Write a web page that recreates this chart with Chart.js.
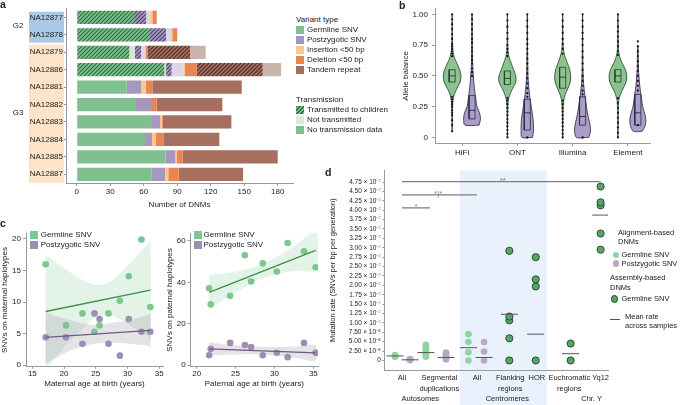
<!DOCTYPE html>
<html>
<head>
<meta charset="utf-8">
<script src="https://cdn.jsdelivr.net/npm/chart.js@4.4.1/dist/chart.umd.min.js"></script>
<style>
  body { margin: 0; background: #fff; font-family: "Liberation Sans", Arial, sans-serif; color: #222; }
  #page { position: relative; width: 680px; height: 405px; overflow: hidden; }
  canvas { position: absolute; }
  .t { position: absolute; font-size: 8px; line-height: 10px; white-space: nowrap; }
  .p { font-size: 10.5px; font-weight: bold; }
  .sw { position: absolute; width: 8px; height: 8px; }
  .dot { position: absolute; border-radius: 50%; box-sizing: border-box; }
</style>
</head>
<body>
<div id="page">
  <canvas id="chartA" width="296" height="212" style="left:0;top:0"></canvas>
  <canvas id="chartB" width="295" height="160" style="left:385px;top:0"></canvas>
  <canvas id="chartC1" width="170" height="180" style="left:0;top:225px"></canvas>
  <canvas id="chartC2" width="165" height="180" style="left:165px;top:225px"></canvas>
  <canvas id="chartD" width="355" height="240" style="left:325px;top:165px"></canvas>
</div>
<script>
// ---- panel a: DNMs per sample ----
const samples = ['NA12877', 'NA12878', 'NA12879', 'NA12886', 'NA12881', 'NA12882', 'NA12883', 'NA12884', 'NA12885', 'NA12887'];
const sampleGroup = ['G2', 'G2', 'G3', 'G3', 'G3', 'G3', 'G3', 'G3', 'G3', 'G3'];
const germT = [52.2, 65.6, 47.1, 78.5, 0, 0, 0, 0, 0, 0];
const germNT = [0, 0, 5.0, 1.5, 0, 0, 0, 0, 0, 0];
const germND = [0, 0, 0, 0, 44.8, 53.1, 67.4, 61.2, 79.4, 67.2];
const pzT = [10.0, 14.4, 5.5, 5.0, 0, 0, 0, 0, 0, 0];
const pzNT = [3.5, 4.4, 4.0, 10.5, 0, 0, 0, 0, 0, 0];
const pzND = [0, 0, 0, 0, 12.8, 14.3, 7.2, 6.2, 8.9, 11.9];
const insAll = [2.0, 1.2, 0, 1.5, 4.2, 0, 1.5, 3.6, 1.2, 2.9];
const delAll = [4.0, 4.4, 1.7, 10.5, 5.9, 4.2, 0.9, 7.2, 5.4, 9.3];
const trT = [0, 0, 38.2, 59.0, 0, 0, 0, 0, 0, 0];
const trNT = [0, 0, 14.0, 16.5, 0, 0, 0, 0, 0, 0];
const trND = [0, 0, 0, 0, 80.1, 58.8, 61.5, 49.5, 85.1, 57.7];
const dnmTicks = [0, 30, 60, 90, 120, 150, 180];
const variantTypes = ['Germline SNV', 'Postzygotic SNV', 'Insertion <50 bp', 'Deletion <50 bp', 'Tandem repeat'];
const transTypes = ['Transmitted to children', 'Not transmitted', 'No transmission data'];

// ---- panel b: allele balance ----
const techs = ['HiFi', 'ONT', 'Illumina', 'Element'];
const abLevels = [0, 0.05, 0.1, 0.15, 0.2, 0.25, 0.3, 0.35, 0.4, 0.45, 0.5, 0.55, 0.6, 0.65, 0.7, 0.75, 0.8, 0.85, 0.9, 0.95, 1];
const abTicks = [0, 0.25, 0.5, 0.75, 1];
const abTickLabels = ['0', '0.25', '0.50', '0.75', '1.00'];
const vwHifiG = [null, 0, 0.02, 0.02, 0.03, 0.05, 0.1, 0.25, 0.55, 0.9, 1, 0.85, 0.55, 0.25, 0.1, 0.05, 0.03, 0.02, 0.02, 0.01, 0];
const vwHifiP = [null, null, 0.8, 0.95, 0.85, 0.56, 0.45, 0.36, 0.27, 0.2, 0.15, 0.1, 0.07, 0.05, 0.04, 0.03, 0.03, 0.02, 0.02, 0.01, 0];
const vwOntG = [0, 0.01, 0.02, 0.02, 0.03, 0.05, 0.1, 0.3, 0.6, 0.95, 0.95, 0.7, 0.45, 0.2, 0.08, 0.04, 0.03, 0.02, 0.02, 0.01, 0];
const vwOntP = [0.6, 0.7, 0.7, 0.65, 0.55, 0.45, 0.35, 0.25, 0.18, 0.12, 0.08, 0.06, 0.05, 0.04, 0.03, 0.03, 0.02, 0.02, 0.02, 0.01, 0];
const vwIllG = [0, 0.01, 0.02, 0.03, 0.04, 0.06, 0.12, 0.3, 0.6, 0.85, 0.9, 0.8, 0.55, 0.3, 0.12, 0.05, 0.03, 0.02, 0.02, 0.01, 0];
const vwIllP = [0.7, 0.9, 0.85, 0.7, 0.55, 0.45, 0.35, 0.25, 0.17, 0.1, 0.07, 0.05, 0.04, 0.03, 0.03, 0.02, 0.02, 0.02, 0.01, 0.01, 0];
const vwElemG = [0, 0.01, 0.02, 0.02, 0.03, 0.05, 0.1, 0.28, 0.6, 0.92, 1, 0.85, 0.5, 0.22, 0.08, 0.04, 0.03, 0.02, 0.02, 0.01, 0];
const vwElemP = [null, 0.5, 0.85, 0.9, 0.75, 0.55, 0.45, 0.35, 0.25, 0.18, 0.12, 0.08, 0.06, 0.04, 0.03, 0, null, null, null, null, null];
// q1, median, q3
const boxHifiG = [0.45, 0.5, 0.55], boxHifiP = [0.15, 0.22, 0.34];
const boxOntG = [0.43, 0.48, 0.54], boxOntP = [0.06, 0.2, 0.31];
const boxIllG = [0.4, 0.49, 0.57], boxIllP = [0.1, 0.17, 0.33];
const boxElemG = [0.45, 0.5, 0.55], boxElemP = [0.1, 0.2, 0.35];
const dotsHifiG = [0.05, 0.1, 0.14, 0.18, 0.2, 0.22, 0.25, 0.27, 0.29, 0.31, 0.33, 0.66, 0.68, 0.7, 0.72, 0.74, 0.76, 0.8, 0.84, 0.88, 0.92, 0.96, 1];
const dotsHifiP = [0.5, 0.53, 0.56, 0.6, 0.63, 0.66, 0.7, 0.73, 0.77, 0.8, 0.84, 0.88, 0.92, 0.96, 1];
const dotsOntG = [0, 0.03, 0.06, 0.09, 0.12, 0.15, 0.18, 0.21, 0.24, 0.27, 0.3, 0.32, 0.66, 0.69, 0.72, 0.75, 0.8, 0.85, 0.9, 0.95, 1];
const dotsOntP = [0, 0.33, 0.36, 0.4, 0.44, 0.48, 0.52, 0.56, 0.6, 0.64, 0.68, 0.72, 0.76, 0.8, 0.85, 0.9, 0.95, 1];
const dotsIllG = [0, 0.03, 0.06, 0.09, 0.12, 0.15, 0.18, 0.21, 0.24, 0.27, 0.3, 0.68, 0.72, 0.76, 0.8, 0.85, 0.9, 0.95, 1];
const dotsIllP = [0, 0.35, 0.38, 0.42, 0.46, 0.5, 0.55, 0.6, 0.65, 0.7, 0.75, 0.8, 0.85, 0.9, 0.95, 1];
const dotsElemG = [0, 0.04, 0.08, 0.12, 0.16, 0.2, 0.24, 0.28, 0.32, 0.67, 0.7, 0.74, 0.78, 0.82, 0.86, 0.9, 0.95, 1];
const dotsElemP = [0.1, 0.38, 0.42, 0.46, 0.5, 0.54, 0.58, 0.62, 0.66, 0.7, 0.74, 0.78];

// ---- panel c: parental age ----
const momAge = [17.1, 20.3, 22.9, 24.8, 25.6, 27.0, 28.8, 30.2, 32.2, 33.6];
const momGerm = [16.0, 6.3, 8.2, 5.3, 6.3, 8.2, 10.2, 14.1, 19.9, 9.2];
const momPost = [4.4, 4.4, 3.4, 8.2, 7.3, 3.4, 1.5, 7.3, 5.3, 5.3];
const momFitX = [17.1, 33.6], momFitG = [8.5, 11.9], momFitP = [4.4, 5.5];
const momBandX = [17.1, 19, 21, 23, 25, 27, 29, 31, 33, 33.6];
const momBandGHi = [17.5, 16.1, 14.7, 13.5, 12.7, 13.1, 14.7, 16.8, 19.0, 19.7];
const momBandGLo = [-0.5, 1.7, 3.9, 5.9, 7.5, 8.0, 7.2, 5.9, 4.6, 4.1];
const momBandPHi = [8.4, 7.7, 7.1, 6.6, 6.4, 6.6, 6.9, 7.3, 7.9, 8.1];
const momBandPLo = [0.2, 1.3, 2.3, 3.0, 3.4, 3.6, 3.5, 3.3, 3.1, 2.9];
const momTicksX = [15, 20, 25, 30, 35], momTicksY = [0, 5, 10, 15, 20];

const dadAge = [21.6, 21.8, 24.3, 26.2, 27.0, 28.5, 30.3, 31.7, 33.8, 35.3];
const dadGerm = [37.2, 29.4, 33.5, 53.1, 40.4, 49.2, 45.2, 59.0, 55.0, 47.3];
const dadPost = [4.8, 7.9, 10.8, 9.8, 8.8, 4.8, 6.0, 3.9, 10.8, 6.0];
const dadFitX = [21.6, 35.3], dadFitG = [35.2, 55.5], dadFitP = [7.9, 6.0];
const dadBandX = [21.6, 23, 25, 27, 29, 31, 33, 35.3];
const dadBandGHi = [43.7, 44.2, 45.2, 47.0, 49.8, 53.7, 58.6, 65.0];
const dadBandGLo = [26.7, 30.4, 35.2, 39.4, 42.6, 44.5, 45.6, 46.0];
const dadBandPHi = [11.1, 10.4, 9.6, 9.1, 8.8, 8.8, 9.2, 9.6];
const dadBandPLo = [4.7, 5.0, 5.2, 5.3, 5.0, 4.4, 3.4, 2.4];
const dadTicksX = [20, 25, 30, 35], dadTicksY = [0, 20, 40, 60];

// ---- panel d: mutation rates ----
const dGroups = ['autoG', 'autoP', 'segG', 'segP', 'cenG', 'cenP', 'flank', 'hor', 'euchr', 'yq12'];
const dPos = [0.48, 1.15, 1.86, 2.76, 3.76, 4.46, 5.59, 6.77, 8.33, 9.67];
const dKind = ['G', 'P', 'G', 'P', 'G', 'P', 'A', 'A', 'A', 'A'];
const dAutoG = [1.0e-8, 1.15e-8, 1.3e-8, 1.45e-8];
const dAutoP = [0.1e-8, 0.2e-8, 0.3e-8, 0.4e-8];
const dSegG = [1.0e-8, 1.4e-8, 1.8e-8, 2.2e-8, 2.6e-8, 3.0e-8, 3.4e-8, 3.8e-8, 4.2e-8];
const dSegP = [0.3e-8, 0.6e-8, 0.9e-8, 1.3e-8, 1.7e-8, 2.1e-8];
const dCenG = [0, 2.2e-8, 4.9e-8, 7.0e-8];
const dCenP = [0, 2.4e-8, 4.9e-8];
const dFlank = [0, 5.9e-8, 1.07e-7, 1.17e-7, 2.92e-7];
const dHor = [0, 1.97e-7, 2.16e-7, 2.75e-7];
const dEuchr = [0, 4.5e-8];
const dYq12 = [2.95e-7, 3.38e-7, 4.13e-7, 4.21e-7, 4.63e-7];
const dMean = [1.2e-8, 0.17e-8, 2.1e-8, 0.8e-8, 3.4e-8, 0.8e-8, 1.23e-7, 7.0e-8, 1.8e-8, 3.87e-7];
const dTickVals = [0, 2.5e-8, 5e-8, 7.5e-8, 1e-7, 1.25e-7, 1.5e-7, 1.75e-7, 2e-7, 2.25e-7, 2.5e-7, 2.75e-7, 3e-7, 3.25e-7, 3.5e-7, 3.75e-7, 4e-7, 4.25e-7, 4.5e-7, 4.75e-7];
const dTickLabels = ['0', '2.50 × 10⁻⁸', '5.00 × 10⁻⁸', '7.50 × 10⁻⁸', '1.00 × 10⁻⁷', '1.25 × 10⁻⁷', '1.50 × 10⁻⁷', '1.75 × 10⁻⁷', '2.00 × 10⁻⁷', '2.25 × 10⁻⁷', '2.50 × 10⁻⁷', '2.75 × 10⁻⁷', '3.00 × 10⁻⁷', '3.25 × 10⁻⁷', '3.50 × 10⁻⁷', '3.75 × 10⁻⁷', '4.00 × 10⁻⁷', '4.25 × 10⁻⁷', '4.50 × 10⁻⁷', '4.75 × 10⁻⁷'];
const dCatPos = [0.79, 2.46, 4.14, 5.63, 6.82, 8.27, 9.67];
const dCatLabels = [['All'], ['Segmental', 'duplications'], ['All'], ['Flanking', 'regions'], ['HOR'], ['Euchromatic', 'regions'], ['Yq12']];
const dGroupPos = [1.61, 5.5, 9.27];
const dGroupLabels = ['Autosomes', 'Centromeres', 'Chr. Y'];
const dCentroSpan = [3.37, 7.27];
const sigFrom = [0.79, 0.79, 0.79], sigTo = [2.04, 4.14, 9.67];
const sigY = [4.06e-7, 4.41e-7, 4.76e-7];
const sigText = ['*', '*|*', '**'], sigTextX = [1.42, 2.41, 5.3];

const col = {
  germ: '#80bf8f', germDk: '#2f6e3f', germLt: '#d3e7d6',
  pz: '#a597bd', pzDk: '#4d406a', pzLt: '#dcd6e6',
  ins: '#f7c98e', del: '#eb8453',
  tr: '#a66f5f', trDk: '#4d2e24', trLt: '#c9b3aa',
  axis: '#999'
};

Chart.defaults.font.family = '"Liberation Sans", Arial, sans-serif';
Chart.defaults.font.size = 8;
Chart.defaults.color = '#222';

const page = document.getElementById('page');
function put(x, y, text, cls, style) {
  const d = document.createElement('div');
  d.className = 't' + (cls ? ' ' + cls : '');
  d.style.left = x + 'px';
  d.style.top = (y - 5) + 'px';
  d.textContent = text;
  if (style) Object.assign(d.style, style);
  page.appendChild(d);
  return d;
}
function swatch(x, y, bg) {
  const d = document.createElement('div');
  d.className = 'sw';
  d.style.left = x + 'px';
  d.style.top = (y - 4) + 'px';
  d.style.background = bg;
  page.appendChild(d);
}
function dot(x, y, r, bg, border) {
  const d = document.createElement('div');
  d.className = 'dot';
  Object.assign(d.style, { left: (x - r) + 'px', top: (y - r) + 'px', width: 2 * r + 'px', height: 2 * r + 'px', background: bg });
  if (border) d.style.border = '1px solid ' + border;
  page.appendChild(d);
}

function hatch(bg, fg) {
  const c = document.createElement('canvas');
  c.width = 4; c.height = 4;
  const g = c.getContext('2d');
  g.fillStyle = bg;
  g.fillRect(0, 0, 4, 4);
  g.strokeStyle = fg;
  g.lineWidth = 1.1;
  g.beginPath();
  g.moveTo(0, 4); g.lineTo(4, 0);
  g.moveTo(-1, 1); g.lineTo(1, -1);
  g.moveTo(3, 5); g.lineTo(5, 3);
  g.stroke();
  return g.createPattern(c, 'repeat');
}

const noUi = { legend: { display: false }, tooltip: { enabled: false } };
function fixedTicks(vals) {
  return s => { s.ticks = vals.map(v => ({ value: v })); };
}

// ---------- a ----------
const sampleBoxes = {
  id: 'sampleBoxes',
  beforeDraw(chart) {
    const y = chart.scales.y, g = chart.ctx;
    const half = (y.getPixelForValue(1) - y.getPixelForValue(0)) / 2;
    const fills = { G2: '#a9c9e7', G3: '#fde3c9' };
    g.save();
    ['G2', 'G3'].forEach((grp, k) => {
      const first = sampleGroup.indexOf(grp), last = sampleGroup.lastIndexOf(grp);
      const top = y.getPixelForValue(first) - half + (k === 0 ? 3 : 1);
      const bot = k === 0 ? y.getPixelForValue(last) + half - 1 : chart.chartArea.bottom;
      g.fillStyle = fills[grp];
      g.fillRect(29, top, 35, bot - top);
      g.fillStyle = '#222';
      g.font = '8px "Liberation Sans", Arial, sans-serif';
      g.textAlign = 'center';
      g.textBaseline = 'middle';
      g.fillText(grp, 18, (y.getPixelForValue(first) + y.getPixelForValue(last)) / 2);
    });
    g.restore();
  }
};

new Chart(document.getElementById('chartA'), {
  type: 'bar',
  data: {
    labels: samples,
    datasets: [
      { data: germT, backgroundColor: hatch(col.germ, col.germDk) },
      { data: germNT, backgroundColor: col.germLt },
      { data: germND, backgroundColor: col.germ },
      { data: pzT, backgroundColor: hatch(col.pz, col.pzDk) },
      { data: pzNT, backgroundColor: col.pzLt },
      { data: pzND, backgroundColor: col.pz },
      { data: insAll, backgroundColor: col.ins },
      { data: delAll, backgroundColor: col.del },
      { data: trT, backgroundColor: hatch(col.tr, col.trDk) },
      { data: trNT, backgroundColor: col.trLt },
      { data: trND, backgroundColor: col.tr }
    ]
  },
  options: {
    indexAxis: 'y',
    responsive: false,
    animation: false,
    events: [],
    layout: { padding: { top: 8.7, right: 3 } },
    plugins: noUi,
    datasets: { bar: { categoryPercentage: 1, barPercentage: 0.76, borderWidth: 0 } },
    scales: {
      x: {
        type: 'linear', stacked: true, min: -9.6, max: 193.7,
        afterBuildTicks: fixedTicks(dnmTicks),
        grid: { drawOnChartArea: false, tickLength: 3, color: col.axis },
        border: { color: col.axis },
        ticks: { padding: 1, autoSkip: false, maxRotation: 0 },
        title: { display: true, text: 'Number of DNMs', padding: { top: 0, bottom: 2 } },
        afterFit: s => { s.height = 29; }
      },
      y: {
        stacked: true,
        grid: { drawOnChartArea: false, offset: false, tickLength: 2, color: col.axis },
        border: { color: col.axis },
        ticks: { padding: 1 },
        afterFit: s => { s.width = 66; }
      }
    }
  },
  plugins: [sampleBoxes]
});

const variantColors = [col.germ, col.pz, col.ins, col.del, col.tr];
put(296, 20, 'Variant type');
variantTypes.forEach((n, i) => { swatch(296, 30 + 10 * i, variantColors[i]); put(307, 30 + 10 * i, n); });
const transColors = ['repeating-linear-gradient(135deg, #2f6e3f 0 1px, #80bf8f 1px 2.8px)', '#dde9df', col.germ];
put(296, 99.5, 'Transmission');
transTypes.forEach((n, i) => { swatch(296, 110 + 10 * i, transColors[i]); put(307, 110 + 10 * i, n); });

// ---------- b ----------
const vioSpecs = [
  [vwHifiG, boxHifiG, dotsHifiG], [vwHifiP, boxHifiP, dotsHifiP],
  [vwOntG, boxOntG, dotsOntG], [vwOntP, boxOntP, dotsOntP],
  [vwIllG, boxIllG, dotsIllG], [vwIllP, boxIllP, dotsIllP],
  [vwElemG, boxElemG, dotsElemG], [vwElemP, boxElemP, dotsElemP]
];
const vioHalf = 0.16, boxHalf = 0.055, pairOffset = 0.18;
const vioFill = ['#8cc28f', '#a99fc6'], vioLine = ['#1f3f24', '#2d2442'];
const bSets = [];
vioSpecs.forEach(([widths, box, dots], k) => {
  const kind = k % 2;
  const c = Math.floor(k / 2) + 1 + (kind ? pairOffset : -pairOffset);
  const right = [], left = [];
  abLevels.forEach((y, i) => {
    if (widths[i] === null) return;
    right.push({ x: c + widths[i] * vioHalf, y });
    left.unshift({ x: c - widths[i] * vioHalf, y });
  });
  const shape = right.concat(left, [right[0]]);
  bSets.push({ type: 'line', data: shape, fill: 'shape', backgroundColor: vioFill[kind], borderColor: vioLine[kind], borderWidth: 0.8, pointRadius: 0, tension: 0.3 });
  bSets.push({ type: 'scatter', data: dots.map(y => ({ x: c, y })), pointRadius: 1.1, backgroundColor: '#111', borderWidth: 0 });
  bSets.push({ type: 'line', data: [{ x: c - boxHalf, y: box[0] }, { x: c + boxHalf, y: box[0] }, { x: c + boxHalf, y: box[2] }, { x: c - boxHalf, y: box[2] }, { x: c - boxHalf, y: box[0] }], borderColor: vioLine[kind], borderWidth: 0.8, pointRadius: 0, fill: false });
  bSets.push({ type: 'line', data: [{ x: c - boxHalf, y: box[1] }, { x: c + boxHalf, y: box[1] }], borderColor: vioLine[kind], borderWidth: 0.9, pointRadius: 0, fill: false });
});

new Chart(document.getElementById('chartB'), {
  type: 'scatter',
  data: { datasets: bSets.reverse() },
  options: {
    responsive: false,
    animation: false,
    events: [],
    layout: { padding: { top: 6, right: 30 } },
    plugins: noUi,
    scales: {
      x: {
        type: 'linear', min: 0.51, max: 4.4,
        afterBuildTicks: fixedTicks([1, 2, 3, 4]),
        grid: { drawOnChartArea: false, tickLength: 3, color: col.axis },
        border: { color: col.axis },
        ticks: { padding: 2, autoSkip: false, maxRotation: 0, callback: (v, i) => techs[i] },
        afterFit: s => { s.height = 17; }
      },
      y: {
        min: -0.045, max: 1.045,
        afterBuildTicks: fixedTicks(abTicks),
        grid: { drawOnChartArea: false, tickLength: 3, color: col.axis },
        border: { color: col.axis },
        ticks: { padding: 4, callback: (v, i) => abTickLabels[i] },
        title: { display: true, text: 'Allele balance', padding: { top: 16 } },
        afterFit: s => { s.width = 50; }
      }
    }
  }
});

// ---------- c ----------
const cGreen = '#7bc790', cPurple = '#9c8fb1';
function agePanel(id, p) {
  const shape = (xs, hi, lo) => xs.map((x, i) => ({ x, y: hi[i] })).concat(xs.map((x, i) => ({ x, y: lo[i] })).reverse());
  const sets = [
    { type: 'line', data: p.fitX.map((x, i) => ({ x, y: p.fitG[i] })), borderColor: '#3f8f49', borderWidth: 1.3, pointRadius: 0 },
    { type: 'line', data: p.fitX.map((x, i) => ({ x, y: p.fitP[i] })), borderColor: '#6e5a84', borderWidth: 1.3, pointRadius: 0 },
    { type: 'scatter', data: p.age.map((x, i) => ({ x, y: p.germ[i] })), backgroundColor: cGreen, pointRadius: 3.3, borderWidth: 0 },
    { type: 'scatter', data: p.age.map((x, i) => ({ x, y: p.post[i] })), backgroundColor: cPurple, pointRadius: 3.3, borderWidth: 0 },
    { type: 'line', data: shape(p.bandX, p.pHi, p.pLo), fill: 'shape', backgroundColor: 'rgba(140,128,150,0.22)', borderWidth: 0, pointRadius: 0, tension: 0.3 },
    { type: 'line', data: shape(p.bandX, p.gHi, p.gLo), fill: 'shape', backgroundColor: 'rgba(175,222,188,0.35)', borderWidth: 0, pointRadius: 0, tension: 0.3 }
  ];
  new Chart(document.getElementById(id), {
    type: 'scatter',
    data: { datasets: sets },
    options: {
      responsive: false,
      animation: false,
      events: [],
      layout: { padding: { top: 8.3, right: p.padRight } },
      plugins: noUi,
      scales: {
        x: {
          type: 'linear', min: p.xMin, max: p.xMax,
          afterBuildTicks: fixedTicks(p.ticksX),
          grid: { drawOnChartArea: false, tickLength: 2, color: col.axis },
          border: { color: col.axis },
          ticks: { padding: 0.5, autoSkip: false, maxRotation: 0 },
          title: { display: true, text: p.xTitle, padding: { top: 0, bottom: 16 } },
          afterFit: s => { s.height = 38.3; }
        },
        y: {
          min: p.yMin, max: p.yMax,
          afterBuildTicks: fixedTicks(p.ticksY),
          grid: { drawOnChartArea: false, tickLength: 3, color: col.axis },
          border: { color: col.axis },
          ticks: { padding: 2 },
          title: { display: true, text: p.yTitle, padding: { top: 0.2 } },
          afterFit: s => { s.width = p.yWidth; }
        }
      }
    }
  });
}
agePanel('chartC1', {
  age: momAge, germ: momGerm, post: momPost, fitX: momFitX, fitG: momFitG, fitP: momFitP,
  bandX: momBandX, gHi: momBandGHi, gLo: momBandGLo, pHi: momBandPHi, pLo: momBandPLo,
  ticksX: momTicksX, ticksY: momTicksY, xMin: 14.0, xMax: 35.6, yMin: -0.25, yMax: 20.9,
  xTitle: 'Maternal age at birth (years)', yTitle: 'SNVs on maternal haplotypes', yWidth: 26, padRight: 7
});
agePanel('chartC2', {
  age: dadAge, germ: dadGerm, post: dadPost, fitX: dadFitX, fitG: dadFitG, fitP: dadFitP,
  bandX: dadBandX, gHi: dadBandGHi, gLo: dadBandGLo, pHi: dadBandPHi, pLo: dadBandPLo,
  ticksX: dadTicksX, ticksY: dadTicksY, xMin: 19.23, xMax: 35.6, yMin: -0.7, yMax: 63.7,
  xTitle: 'Paternal age at birth (years)', yTitle: 'SNVs on paternal haplotypes', yWidth: 25.7, padRight: 12
});
[[30, 40.7], [194, 203.5]].forEach(([sx, tx]) => {
  swatch(sx, 235.3, cGreen); put(tx, 235.3, 'Germline SNV');
  swatch(sx, 245, cPurple); put(tx, 245, 'Postzygotic SNV');
});

// ---------- d ----------
const dLight = '#8fd4a1', dPurple = '#b5aabf', dDark = '#58a468', dDarkLine = '#1d4a28';
const dValues = [dAutoG, dAutoP, dSegG, dSegP, dCenG, dCenP, dFlank, dHor, dEuchr, dYq12];
const centroShade = {
  id: 'centroShade',
  beforeDraw(chart) {
    const x = chart.scales.x, g = chart.ctx;
    const x0 = x.getPixelForValue(dCentroSpan[0]), x1 = x.getPixelForValue(dCentroSpan[1]);
    g.save();
    g.fillStyle = '#e9f2fc';
    g.fillRect(x0, chart.chartArea.top, x1 - x0, chart.height - chart.chartArea.top);
    g.restore();
  },
  afterDatasetsDraw(chart) {
    const x = chart.scales.x, y = chart.scales.y, g = chart.ctx;
    g.save();
    g.font = '8px "Liberation Sans", Arial, sans-serif';
    g.textAlign = 'center';
    g.textBaseline = 'alphabetic';
    sigText.forEach((t, i) => {
      g.fillStyle = i === 2 ? '#49a35f' : '#888';
      g.fillText(t, x.getPixelForValue(sigTextX[i]), y.getPixelForValue(sigY[i]) + 1.5);
    });
    g.restore();
  }
};
const dSets = [];
dValues.forEach((vals, k) => {
  const kind = dKind[k];
  dSets.push({
    type: 'scatter',
    data: vals.map(v => ({ x: dPos[k], y: v })),
    backgroundColor: kind === 'G' ? dLight : kind === 'P' ? dPurple : dDark,
    borderColor: dDarkLine,
    borderWidth: kind === 'A' ? 0.9 : 0,
    pointRadius: kind === 'A' ? 3.6 : 3.3
  });
});
dMean.forEach((m, k) => {
  dSets.push({ type: 'line', data: [{ x: dPos[k] - 0.38, y: m }, { x: dPos[k] + 0.38, y: m }], borderColor: '#555', borderWidth: 1, pointRadius: 0 });
});
sigY.forEach((v, i) => {
  dSets.push({ type: 'line', data: [{ x: sigFrom[i], y: v }, { x: sigTo[i], y: v }], borderColor: '#7d7d7d', borderWidth: 1.2, pointRadius: 0 });
});
const dXTicks = dCatPos.map((v, i) => ({ v, l: dCatLabels[i] }))
  .concat(dGroupPos.map((v, i) => ({ v, l: ['', '', dGroupLabels[i]] })))
  .sort((a, b) => a.v - b.v);

new Chart(document.getElementById('chartD'), {
  type: 'scatter',
  data: { datasets: dSets.reverse() },
  options: {
    responsive: false,
    animation: false,
    events: [],
    layout: { padding: { top: 1.7, right: 72 } },
    plugins: noUi,
    scales: {
      x: {
        type: 'linear', min: 0, max: 10,
        afterBuildTicks: fixedTicks(dXTicks.map(t => t.v)),
        grid: { display: true, drawOnChartArea: false, drawTicks: false, color: col.axis },
        border: { color: col.axis },
        ticks: { padding: 2.75, autoSkip: false, maxRotation: 0, font: { size: 7.5, lineHeight: 1.4 }, callback: (v, i) => dXTicks[i].l },
        afterFit: s => { s.height = 35; }
      },
      y: {
        min: -2.54e-8, max: 5.06e-7,
        afterBuildTicks: fixedTicks(dTickVals),
        grid: { drawOnChartArea: false, tickLength: 2, color: col.axis },
        border: { color: col.axis },
        ticks: { padding: 1.5, autoSkip: false, font: { size: 6.5 }, callback: (v, i) => dTickLabels[i] },
        title: { display: true, text: 'Mutation rate (SNVs per bp per generation)', font: { size: 7.5 }, padding: { top: 3 } },
        afterFit: s => { s.width = 59.3; }
      }
    }
  },
  plugins: [centroShade]
});

const dLeg = { fontSize: '7.5px' };
put(618, 232.7, 'Alignment-based', '', dLeg);
put(618, 241.7, 'DNMs', '', dLeg);
dot(616, 255, 3.3, dLight); put(621.5, 255, 'Germline SNV', '', dLeg);
dot(616, 263.5, 3.3, dPurple); put(621.5, 263.5, 'Postzygotic SNV', '', dLeg);
put(610, 278.3, 'Assembly-based', '', dLeg);
put(610, 287.7, 'DNMs', '', dLeg);
dot(614.5, 299, 3.8, dDark, dDarkLine); put(621.5, 299, 'Germline SNV', '', dLeg);
const meanKey = document.createElement('div');
Object.assign(meanKey.style, { position: 'absolute', left: '610px', top: '318.5px', width: '10px', height: '1px', background: '#555' });
page.appendChild(meanKey);
put(625, 316.7, 'Mean rate', '', dLeg);
put(625, 325.7, 'across samples', '', dLeg);

// panel letters
put(0, 4, 'a', 'p');
put(399, 5, 'b', 'p');
put(0, 223, 'c', 'p');
put(325, 172, 'd', 'p');
</script>
</body>
</html>
